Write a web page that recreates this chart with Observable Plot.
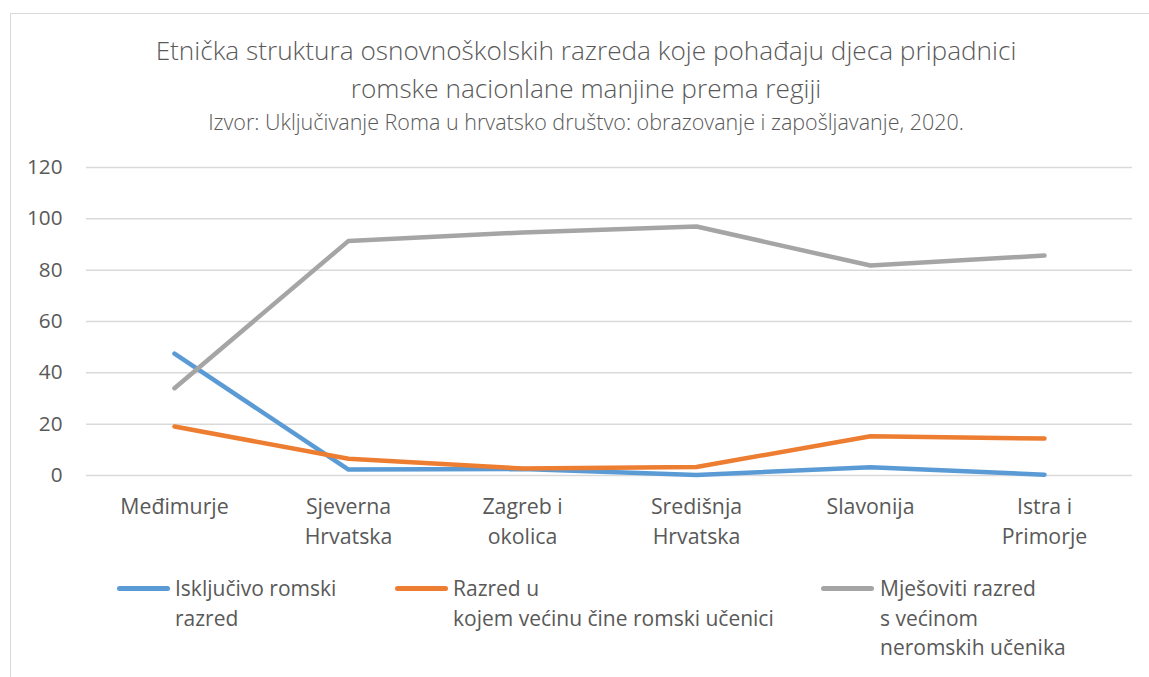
<!DOCTYPE html>
<html><head><meta charset="utf-8">
<script src="https://cdn.jsdelivr.net/npm/d3@7"></script>
<script src="https://cdn.jsdelivr.net/npm/@observablehq/plot@0.6"></script>
<style>
body{margin:0;background:#fff;font-family:"Open Sans",sans-serif;color:#595959;width:1149px;height:677px;overflow:hidden;position:relative}
#frame{position:absolute;left:10px;top:13px;width:1160px;height:700px;border:1px solid #d9d9d9;box-sizing:border-box}
#title{position:absolute;left:10px;width:1152px;top:31px;text-align:center;font-size:26.2px;line-height:38px;font-weight:300}
#sub{position:absolute;left:10px;width:1152px;top:109px;text-align:center;font-size:21.5px;line-height:26px;font-weight:300}
#chart{position:absolute;left:0;top:150px}
.leg{position:absolute;top:574px;font-size:21px;line-height:29.5px;white-space:nowrap}
.sw{position:absolute;top:586px;height:5px;border-radius:3px;width:53px}
</style></head>
<body>
<div id="frame"></div>
<div id="title">Etnička struktura osnovnoškolskih razreda koje pohađaju djeca pripadnici<br>romske nacionlane manjine prema regiji</div>
<div id="sub">Izvor: Uključivanje Roma u hrvatsko društvo: obrazovanje i zapošljavanje, 2020.</div>
<div id="chart"></div>
<div id="legend"></div>
<script>
const regions = ["Međimurje","Sjeverna Hrvatska","Zagreb i okolica","Središnja Hrvatska","Slavonija","Istra i Primorje"];
const regionLabels = ["Međimurje","Sjeverna\nHrvatska","Zagreb i\nokolica","Središnja\nHrvatska","Slavonija","Istra i\nPrimorje"];
const seriesNames = ["Isključivo romski razred","Razred u kojem većinu čine romski učenici","Mješoviti razred s većinom neromskih učenika"];
const seriesLegend = ["Isključivo romski<br>razred","Razred u<br>kojem većinu čine romski učenici","Mješoviti razred<br>s većinom<br>neromskih učenika"];
const seriesColors = ["#5b9bd5","#ed7d31","#a5a5a5"];
const iskljucivoRomski = [47.5, 2.3, 2.5, 0.2, 3.2, 0.3];
const vecinaRomski = [19.1, 6.5, 2.7, 3.3, 15.3, 14.4];
const mjesoviti = [34.0, 91.4, 94.7, 97.0, 81.8, 85.7];
const yTicks = [0,20,40,60,80,100,120];

const values = [iskljucivoRomski, vecinaRomski, mjesoviti];
const data = [];
values.forEach((arr, s) => arr.forEach((v, i) => data.push({series: seriesNames[s], region: regions[i], value: v})));
const labelMap = Object.fromEntries(regions.map((r,i)=>[r, regionLabels[i]]));

const chart = Plot.plot({
  width: 1149, height: 410,
  marginLeft: 86, marginRight: 17, marginTop: 17, marginBottom: 85,
  style: {fontFamily: "'Open Sans', sans-serif", color: "#595959", background: "transparent"},
  x: {type: "point", domain: regions, padding: 0.5},
  y: {domain: [0, 120]},
  color: {domain: seriesNames, range: seriesColors},
  marks: [
    Plot.gridY(yTicks, {stroke: "#d9d9d9", strokeOpacity: 1, strokeWidth: 1.5}),
    Plot.axisY({ticks: yTicks, tickSize: 0, tickPadding: 24, fontSize: 20.7, label: null}),
    Plot.axisX({tickSize: 0, tickPadding: 17, fontSize: 21.3, lineHeight: 1.41, label: null, tickFormat: d => labelMap[d]}),
    Plot.line(data, {x: "region", y: "value", z: "series", stroke: "series", strokeWidth: 4.5, strokeLinecap: "round", strokeLinejoin: "round"})
  ]
});
document.getElementById("chart").appendChild(chart);

const legX = [[117, 175], [395, 453], [821, 880]];
const leg = document.getElementById("legend");
seriesNames.forEach((s, i) => {
  const sw = document.createElement("div");
  sw.className = "sw"; sw.style.left = legX[i][0] + "px"; sw.style.background = seriesColors[i];
  leg.appendChild(sw);
  const t = document.createElement("div");
  t.className = "leg"; t.style.left = legX[i][1] + "px"; t.innerHTML = seriesLegend[i];
  leg.appendChild(t);
});
</script>
</body></html>
